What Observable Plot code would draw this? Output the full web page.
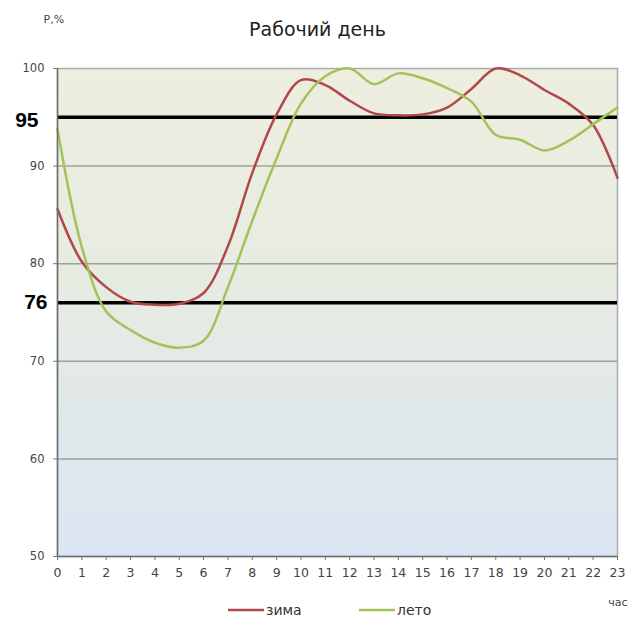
<!DOCTYPE html>
<html>
<head>
<meta charset="utf-8">
<script src="https://cdn.jsdelivr.net/npm/d3@7"></script>
<script src="https://cdn.jsdelivr.net/npm/@observablehq/plot@0.6"></script>
<style>
  html, body { margin: 0; padding: 0; background: #fff; }
  #chart { width: 636px; height: 617px; }
</style>
</head>
<body>
<div id="chart"></div>
<script>
const hours = d3.range(0, 24);
const zima = [85.6, 80.2, 77.6, 76.1, 75.8, 75.9, 77.0, 81.8, 89.3, 95.3, 98.8, 98.3, 96.7, 95.4, 95.2, 95.3, 96.0, 97.9, 100, 99.3, 97.8, 96.4, 94.2, 88.8];
const leto = [93.8, 81.7, 75.1, 73.2, 71.9, 71.4, 72.1, 77.6, 84.4, 90.8, 96.4, 99.2, 100, 98.4, 99.5, 99.0, 98.0, 96.6, 93.2, 92.7, 91.6, 92.6, 94.3, 96.0];
const gridTicks = [60, 70, 80, 90];
const smallTicks = [50, 60, 70, 80, 90, 100];
const boldLines = [76, 95];
const seriesNames = ["зима", "лето"];
const seriesColors = ["#b0474a", "#a3c25a"];
const title = "Рабочий день";
const yLabel = "Р,%";
const xLabel = "час";

const rows = [];
hours.forEach((h, i) => {
  rows.push({hour: h, value: zima[i], series: seriesNames[0]});
  rows.push({hour: h, value: leto[i], series: seriesNames[1]});
});

const defs = () => {
  const g = d3.create("svg:defs");
  const lg = g.append("linearGradient").attr("id", "bggrad").attr("x1", 0).attr("y1", 0).attr("x2", 0).attr("y2", 1);
  lg.append("stop").attr("offset", "0%").attr("stop-color", "#eeeedf");
  lg.append("stop").attr("offset", "45%").attr("stop-color", "#e6ebe2");
  lg.append("stop").attr("offset", "100%").attr("stop-color", "#dce5f3");
  return g.node();
};

const FONT = "DejaVu Sans, Verdana, sans-serif";

const chart = Plot.plot({
  width: 636,
  height: 617,
  marginLeft: 57,
  marginRight: 19,
  marginTop: 68,
  marginBottom: 61,
  style: {fontFamily: FONT, background: "#fff"},
  x: {domain: [0, 23], ticks: hours, label: null},
  y: {domain: [50, 100], label: null},
  color: {domain: seriesNames, range: seriesColors},
  marks: [
    defs,
    Plot.frame({fill: "url(#bggrad)", stroke: "#a8acb0", strokeWidth: 1.5}),
    Plot.ruleY(gridTicks, {stroke: "#9ba39b", strokeWidth: 1.5}),
    Plot.ruleY(boldLines, {stroke: "#000", strokeWidth: 3.5}),
    Plot.line(rows, {x: "hour", y: "value", z: "series", stroke: "series", strokeWidth: 2.5, curve: "catmull-rom"}),
    Plot.ruleX([0], {stroke: "#6b6f72", strokeWidth: 1.5}),
    Plot.ruleY([50], {stroke: "#6b6f72", strokeWidth: 1.5}),
    Plot.axisY(smallTicks, {tickSize: 4, tickPadding: 9, fontSize: 11.5, fill: "#444", stroke: "#777"}),
    Plot.text([boldLines[1]], {y: d => d, frameAnchor: "left", textAnchor: "end", dx: -19, dy: 3, text: d => String(d), fontSize: 21, fontWeight: "bold", fill: "#000", fontFamily: "Liberation Sans, Arial, sans-serif"}),
    Plot.text([boldLines[0]], {y: d => d, frameAnchor: "left", textAnchor: "end", dx: -10, dy: 0, text: d => String(d), fontSize: 21, fontWeight: "bold", fill: "#000", fontFamily: "Liberation Sans, Arial, sans-serif"}),
    Plot.axisX(hours, {tickSize: 4, tickPadding: 8, fontSize: 12.5, fill: "#444", stroke: "#777"}),
    Plot.text([title], {frameAnchor: "top", lineAnchor: "bottom", dy: -33, dx: -20, fontSize: 19, fill: "#222"}),
    Plot.text([yLabel], {frameAnchor: "top-left", textAnchor: "start", lineAnchor: "bottom", dy: -46, dx: -14, fontSize: 11, fill: "#444"}),
    Plot.text([xLabel], {frameAnchor: "bottom-right", textAnchor: "end", lineAnchor: "bottom", dy: 49, dx: 10, fontSize: 11, fill: "#444"})
  ]
});

// legend below plot area, inside the SVG
const svg = d3.select(chart);
const legendItems = [
  {name: seriesNames[0], color: seriesColors[0], x: 228},
  {name: seriesNames[1], color: seriesColors[1], x: 359}
];
const lg = svg.append("g").attr("font-family", FONT).attr("text-anchor", "start");
legendItems.forEach(d => {
  lg.append("line").attr("x1", d.x).attr("x2", d.x + 36).attr("y1", 610).attr("y2", 610)
    .attr("stroke", d.color).attr("stroke-width", 2.5);
  lg.append("text").attr("x", d.x + 38).attr("y", 615).attr("font-size", 14).attr("fill", "#333")
    .attr("text-anchor", "start").text(d.name);
});

document.getElementById("chart").appendChild(chart);
</script>
</body>
</html>
